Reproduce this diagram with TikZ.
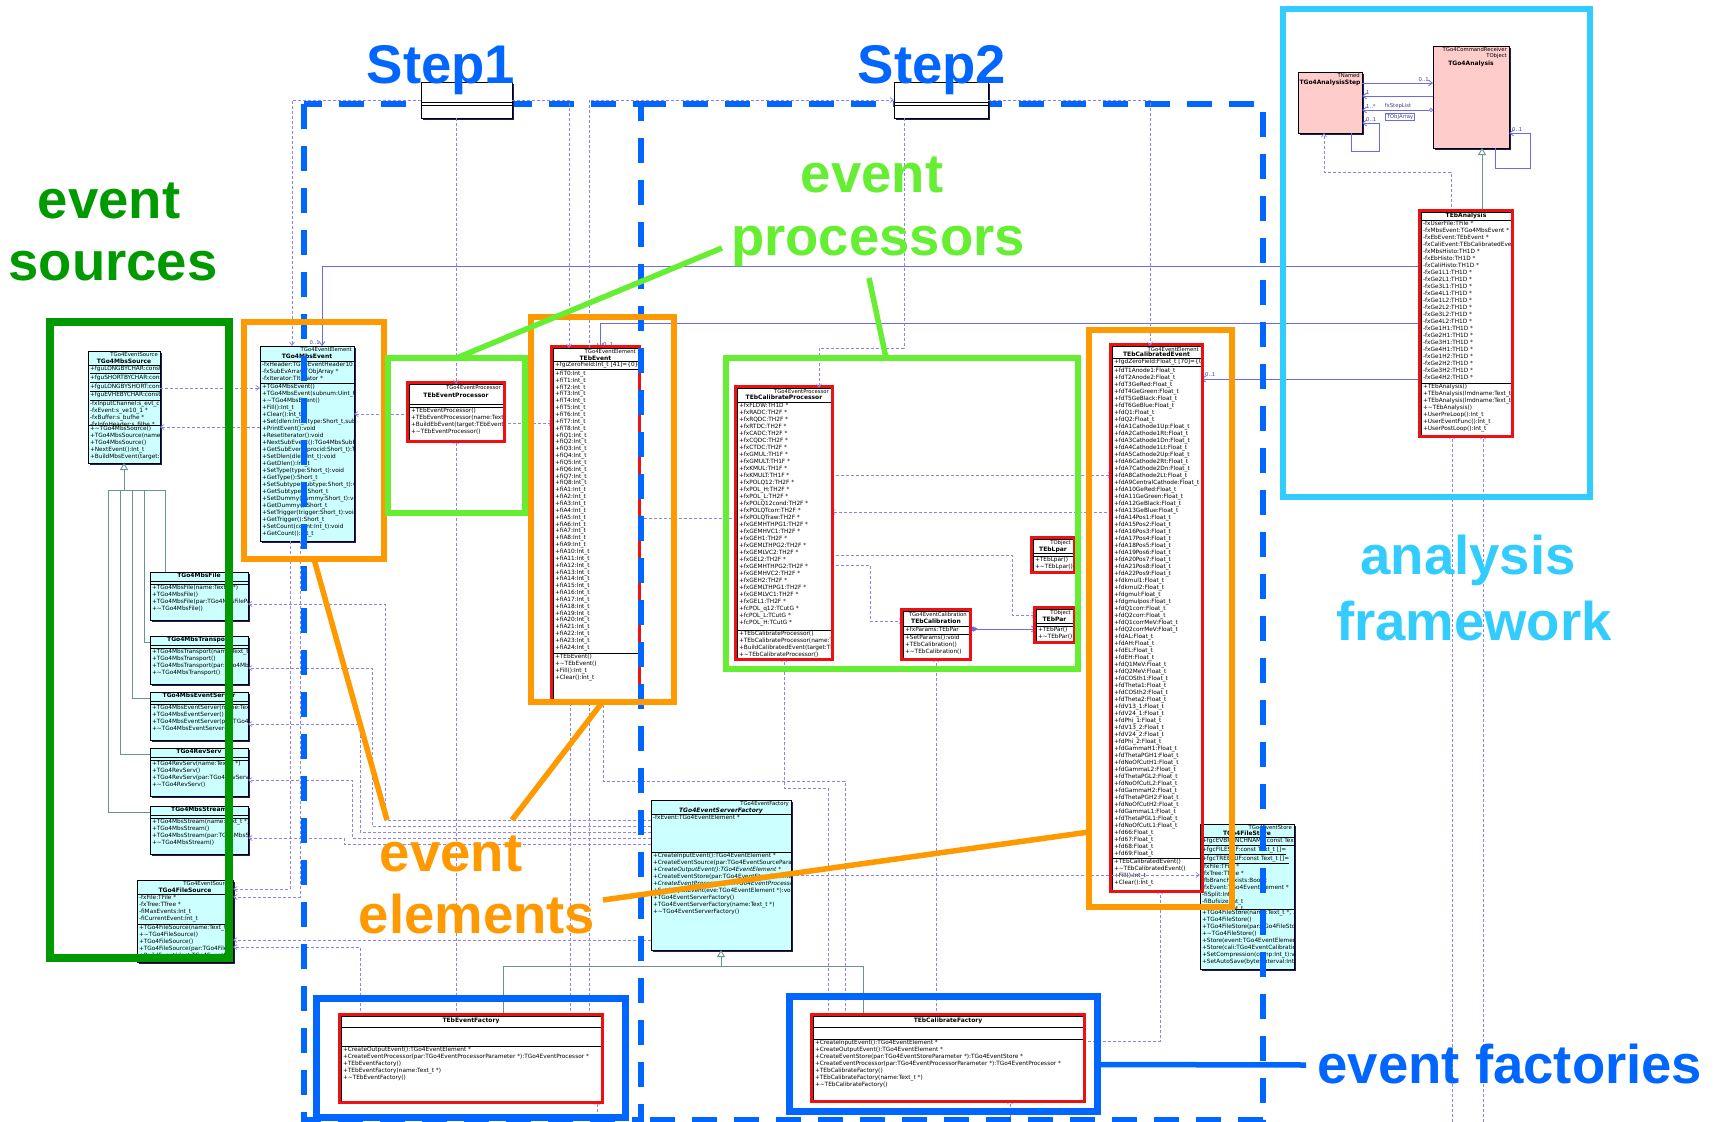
\documentclass[tikz,border=0pt]{standalone}
\usepackage{fontspec}
\setmainfont{DejaVu Sans}
\newfontfamily\labelfont{Liberation Sans}
\usetikzlibrary{arrows.meta,calc}
\definecolor{umlcyan}{HTML}{CCFFFF}
\definecolor{umlpink}{HTML}{FFCCCC}
\definecolor{umlshade}{HTML}{1C1C6E}
\definecolor{depc}{HTML}{8F82EA}
\definecolor{assocc}{HTML}{6A6AEE}
\definecolor{inhc}{HTML}{6C9292}
\definecolor{hlred}{HTML}{EE1111}
\definecolor{srcgreen}{HTML}{009A00}
\definecolor{procgreen}{HTML}{66EE33}
\definecolor{elorange}{HTML}{FF9900}
\definecolor{anacyan}{HTML}{33CCFF}
\definecolor{stepblue}{HTML}{0066FF}
\catcode`\_=12

\tikzset{
  umlnode/.style={rectangle, draw=black, line width=0.5pt, fill=white, inner sep=0pt, outer sep=0pt},
  umlsep/.style={draw=black, line width=0.5pt},
  umltxt/.style={inner sep=0pt, align=left, font=\fontsize{5.8}{7}\selectfont},
  umldense/.style={font=\fontsize{5.8}{6.85}\selectfont},
  umlpar/.style={inner sep=0pt, align=right, font=\fontsize{5.3}{6.3}\selectfont},
  umltitle/.style={inner sep=0pt, font=\bfseries\fontsize{6}{7}\selectfont},
  hlframe/.style={draw=hlred, line width=3.2pt},
  dep/.style={draw=depc, line width=0.7pt, dash pattern=on 3pt off 2pt, -{Straight Barb[length=3.5pt,width=5pt]}},
  assoc/.style={draw=assocc, line width=0.8pt, -{Straight Barb[length=4pt,width=6pt]}},
  assocplain/.style={draw=assocc, line width=0.8pt},
  inhline/.style={draw=inhc, line width=0.9pt},
  inh/.style={inhline, -{Triangle[open,length=7pt,width=8pt,fill=white]}},
  multlbl/.style={inner sep=0pt, font=\fontsize{5.3}{6}\selectfont, text=assocc!60!black},
  bigframe/.style={rectangle, draw=#1, fill=none, inner sep=0pt, outer sep=0pt},
  bigtxt/.style={inner sep=0pt, anchor=base, text=#1, font=\labelfont\bfseries\fontsize{54.5}{60}\selectfont},
  ptrline/.style={draw=#1, line width=5.5pt},
  stepdash/.style={draw=stepblue, line width=5.5pt, dash pattern=on 25pt off 17pt},
}

% class box: [options]{name}{x}{y}{width}{header h}{attribute h}{method h}
\newcommand\umlbox[8][]{%
  \pgfmathsetmacro\umlh{#6+#7+#8}%
  \fill[umlshade] (#3+2.2,#4+2.2) rectangle ++(#5,\umlh);
  \node[umlnode,#1,minimum width=#5,minimum height=\umlh,anchor=north west] (#2) at (#3,#4) {};
  \coordinate (#2-a) at (#3,#4+#6);
  \coordinate (#2-m) at (#3,#4+#6+#7);
  \draw[umlsep] (#2-a) -- ++(#5,0);
  \draw[umlsep] (#2-m) -- ++(#5,0);
}
% header: [title offset]{box}{parent}{title}
\newcommand\umlhead[4][7.4]{%
  \begin{scope}
    \clip (#2.south west) rectangle (#2.north east);
    \node[umlpar,anchor=north east] at ($(#2.north east)+(-2,1.3)$) {#3};
    \node[umltitle,anchor=north] at ($(#2.north)+(0,#1)$) {#4};
  \end{scope}}
% compartment text: [options]{box}{a|m}{lines}
\newcommand\umlsec[4][]{%
  \begin{scope}
    \clip (#2.south west) rectangle (#2.north east);
    \node[umltxt,anchor=north west,#1] at ($(#2-#3)+(1.8,1.0)$) {#4};
  \end{scope}}
\newcommand\hlbox[1]{\draw[hlframe] ($(#1.north west)+(-1.6,-1.6)$) rectangle ($(#1.south east)+(1.6,1.6)$);}
\newcommand\dt{\textasciitilde}

\begin{document}
\begin{tikzpicture}[x=1pt,y=-1pt]
\useasboundingbox (0,0) rectangle (1725,1122);
\fill[white] (0,0) rectangle (1725,1122);

% ---------- class boxes ----------
\umlbox[fill=umlcyan]{mbssrc}{88}{351}{72}{14}{60}{38}
\umlhead{mbssrc}{TGo4EventSource}{TGo4MbsSource}
\umlsec{mbssrc}{a}{\underline{+fguLONGBYCHAR:const Uint_t}\\\underline{+fguSHORTBYCHAR:const Uint_t}\\\underline{+fguLONGBYSHORT:const Uint_t}\\\underline{+fguEVHEBYCHAR:const Uint_t}\\-fxInputChannel:s_evt_channel *\\-fxEvent:s_ve10_1 *\\-fxBuffer:s_bufhe *\\-fxInfoHeader:s_filhe *}
\umlsec{mbssrc}{m}{+\dt TGo4MbsSource()\\+TGo4MbsSource(name:Text_t *)\\+TGo4MbsSource()\\+NextEvent():Int_t\\+BuildMbsEvent(target:TGo4MbsEvent *)}

\umlbox[fill=umlcyan]{mbsevt}{260}{346}{94}{15}{22}{158}
\umlhead{mbsevt}{TGo4EventElement}{TGo4MbsEvent}
\umlsec{mbsevt}{a}{-fxHeader:TGo4EventHeader10 *\\-fxSubEvArray:TObjArray *\\-fxIterator:TIterator *}
\umlsec{mbsevt}{m}{+TGo4MbsEvent()\\+TGo4MbsEvent(subnum:Uint_t, ...)\\+\dt TGo4MbsEvent()\\+Fill():Int_t\\+Clear():Int_t\\+Set(dlen:Int_t,type:Short_t,subtype:Short_t)\\+PrintEvent():void\\+ResetIterator():void\\+NextSubEvent():TGo4MbsSubEvent *\\+GetSubEvent(procid:Short_t):TGo4MbsSubEvent *\\+SetDlen(dlen:Int_t):void\\+GetDlen():Int_t\\+SetType(type:Short_t):void\\+GetType():Short_t\\+SetSubtype(subtype:Short_t):void\\+GetSubtype():Short_t\\+SetDummy(dummy:Short_t):void\\+GetDummy():Short_t\\+SetTrigger(trigger:Short_t):void\\+GetTrigger():Short_t\\+SetCount(count:Int_t):void\\+GetCount():Int_t}

\umlbox{evproc}{409}{384}{94}{20}{3}{33}
\umlhead[9]{evproc}{TGo4EventProcessor}{TEbEventProcessor}
\umlsec{evproc}{m}{+TEbEventProcessor()\\+TEbEventProcessor(name:Text_t *)\\+BuildEbEvent(target:TEbEvent *)\\+\dt TEbEventProcessor()}

\umlbox{ebevt}{553}{348}{85}{13}{292}{46}
\umlhead{ebevt}{TGo4EventElement}{TEbEvent}
\umlsec[umldense]{ebevt}{a}{\underline{+fgiZeroField:Int_t [41]=\{0\}}\\+fiT0:Int_t\\+fiT1:Int_t\\+fiT2:Int_t\\+fiT3:Int_t\\+fiT4:Int_t\\+fiT5:Int_t\\+fiT6:Int_t\\+fiT7:Int_t\\+fiT8:Int_t\\+fiQ1:Int_t\\+fiQ2:Int_t\\+fiQ3:Int_t\\+fiQ4:Int_t\\+fiQ5:Int_t\\+fiQ6:Int_t\\+fiQ7:Int_t\\+fiQ8:Int_t\\+fiA1:Int_t\\+fiA2:Int_t\\+fiA3:Int_t\\+fiA4:Int_t\\+fiA5:Int_t\\+fiA6:Int_t\\+fiA7:Int_t\\+fiA8:Int_t\\+fiA9:Int_t\\+fiA10:Int_t\\+fiA11:Int_t\\+fiA12:Int_t\\+fiA13:Int_t\\+fiA14:Int_t\\+fiA15:Int_t\\+fiA16:Int_t\\+fiA17:Int_t\\+fiA18:Int_t\\+fiA19:Int_t\\+fiA20:Int_t\\+fiA21:Int_t\\+fiA22:Int_t\\+fiA23:Int_t\\+fiA24:Int_t}
\umlsec{ebevt}{m}{+TEbEvent()\\+\dt TEbEvent()\\+Fill():Int_t\\+Clear():Int_t}

\umlbox{calproc}{737}{388}{94}{14}{228}{28}
\umlhead[7]{calproc}{TGo4EventProcessor}{TEbCalibrateProcessor}
\umlsec{calproc}{a}{+fxFLOW:TH1D *\\+fxRADC:TH2F *\\+fxRQDC:TH2F *\\+fxRTDC:TH2F *\\+fxCADC:TH2F *\\+fxCQDC:TH2F *\\+fxCTDC:TH2F *\\+fxGMUL:TH1F *\\+fxGMULT:TH1F *\\+fxKMUL:TH1F *\\+fxKMULT:TH1F *\\+fxPOLQ12:TH2F *\\+fxPOL_H:TH2F *\\+fxPOL_L:TH2F *\\+fxPOLQ12cond:TH2F *\\+fxPOLQTcorr:TH2F *\\+fxPOLQTraw:TH2F *\\+fxGEMHTHPG1:TH2F *\\+fxGEMHVC1:TH2F *\\+fxGEH1:TH2F *\\+fxGEMLTHPG2:TH2F *\\+fxGEMLVC2:TH2F *\\+fxGEL2:TH2F *\\+fxGEMHTHPG2:TH2F *\\+fxGEMHVC2:TH2F *\\+fxGEH2:TH2F *\\+fxGEMLTHPG1:TH2F *\\+fxGEMLVC1:TH2F *\\+fxGEL1:TH2F *\\+fcPOL_q12:TCutG *\\+fcPOL_L:TCutG *\\+fcPOL_H:TCutG *}
\umlsec{calproc}{m}{+TEbCalibrateProcessor()\\+TEbCalibrateProcessor(name:Text_t *)\\+BuildCalibratedEvent(target:TEbCalibratedEvent *)\\+\dt TEbCalibrateProcessor()}

\umlbox{calib}{903}{611}{66}{15}{8}{24}
\umlhead{calib}{TGo4EventCalibration}{TEbCalibration}
\umlsec{calib}{a}{+fxParams:TEbPar}
\umlsec{calib}{m}{+SetParams():void\\+TEbCalibration()\\+\dt TEbCalibration()}

\umlbox{lpar}{1033}{539}{40}{14}{3}{15}
\umlhead{lpar}{TObject}{TEbLpar}
\umlsec{lpar}{m}{+TEbLpar()\\+\dt TEbLpar()}

\umlbox{par}{1036}{609}{37}{14}{3}{15}
\umlhead{par}{TObject}{TEbPar}
\umlsec{par}{m}{+TEbPar()\\+\dt TEbPar()}

\umlbox{calevt}{1112}{346}{89}{12}{500}{32}
\umlhead[5.5]{calevt}{TGo4EventElement}{TEbCalibratedEvent}
\umlsec{calevt}{a}{\underline{+fgdZeroField:Float_t [70]=\{0\}}\\+fdT1Anode1:Float_t\\+fdT2Anode2:Float_t\\+fdT3GeRed:Float_t\\+fdT4GeGreen:Float_t\\+fdT5GeBlack:Float_t\\+fdT6GeBlue:Float_t\\+fdQ1:Float_t\\+fdQ2:Float_t\\+fdA1Cathode1Up:Float_t\\+fdA2Cathode1Rt:Float_t\\+fdA3Cathode1Dn:Float_t\\+fdA4Cathode1Lt:Float_t\\+fdA5Cathode2Up:Float_t\\+fdA6Cathode2Rt:Float_t\\+fdA7Cathode2Dn:Float_t\\+fdA8Cathode2Lt:Float_t\\+fdA9CentralCathode:Float_t\\+fdA10GeRed:Float_t\\+fdA11GeGreen:Float_t\\+fdA12GeBlack:Float_t\\+fdA13GeBlue:Float_t\\+fdA14Pos1:Float_t\\+fdA15Pos2:Float_t\\+fdA16Pos3:Float_t\\+fdA17Pos4:Float_t\\+fdA18Pos5:Float_t\\+fdA19Pos6:Float_t\\+fdA20Pos7:Float_t\\+fdA21Pos8:Float_t\\+fdA22Pos9:Float_t\\+fdkmul1:Float_t\\+fdkmul2:Float_t\\+fdgmul:Float_t\\+fdgmulpos:Float_t\\+fdQ1corr:Float_t\\+fdQ2corr:Float_t\\+fdQ1corrMeV:Float_t\\+fdQ2corrMeV:Float_t\\+fdAL:Float_t\\+fdAH:Float_t\\+fdEL:Float_t\\+fdEH:Float_t\\+fdQ1MeV:Float_t\\+fdQ2MeV:Float_t\\+fdCOSth1:Float_t\\+fdTheta1:Float_t\\+fdCOSth2:Float_t\\+fdTheta2:Float_t\\+fdV13_1:Float_t\\+fdV24_1:Float_t\\+fdPhi_1:Float_t\\+fdV13_2:Float_t\\+fdV24_2:Float_t\\+fdPhi_2:Float_t\\+fdGammaH1:Float_t\\+fdThetaPGH1:Float_t\\+fdNoOfCutH1:Float_t\\+fdGammaL2:Float_t\\+fdThetaPGL2:Float_t\\+fdNoOfCutL2:Float_t\\+fdGammaH2:Float_t\\+fdThetaPGH2:Float_t\\+fdNoOfCutH2:Float_t\\+fdGammaL1:Float_t\\+fdThetaPGL1:Float_t\\+fdNoOfCutL1:Float_t\\+fd66:Float_t\\+fd67:Float_t\\+fd68:Float_t\\+fd69:Float_t}
\umlsec{calevt}{m}{+TEbCalibratedEvent()\\+\dt TEbCalibratedEvent()\\+Fill():Int_t\\+Clear():Int_t}

\umlbox{ana}{1421}{212}{90}{8}{163}{52}
\umlhead[1.2]{ana}{}{TEbAnalysis}
\umlsec{ana}{a}{-fxUserFile:TFile *\\-fxMbsEvent:TGo4MbsEvent *\\-fxEbEvent:TEbEvent *\\-fxCaliEvent:TEbCalibratedEvent *\\-fxMbsHisto:TH1D *\\-fxEbHisto:TH1D *\\-fxCaliHisto:TH1D *\\-fxGe1L1:TH1D *\\-fxGe2L1:TH1D *\\-fxGe3L1:TH1D *\\-fxGe4L1:TH1D *\\-fxGe1L2:TH1D *\\-fxGe2L2:TH1D *\\-fxGe3L2:TH1D *\\-fxGe4L2:TH1D *\\-fxGe1H1:TH1D *\\-fxGe2H1:TH1D *\\-fxGe3H1:TH1D *\\-fxGe4H1:TH1D *\\-fxGe1H2:TH1D *\\-fxGe2H2:TH1D *\\-fxGe3H2:TH1D *\\-fxGe4H2:TH1D *}
\umlsec{ana}{m}{+TEbAnalysis()\\+TEbAnalysis(lmdname:Text_t *)\\+TEbAnalysis(lmdname:Text_t *, outname:Text_t *)\\+\dt TEbAnalysis()\\+UserPreLoop():Int_t\\+UserEventFunc():Int_t\\+UserPostLoop():Int_t}

\umlbox[fill=umlpink]{astep}{1298}{72}{64}{61}{0}{0}
\umlhead[7.6]{astep}{TNamed}{TGo4AnalysisStep}
\umlbox[fill=umlpink]{go4ana}{1433}{46}{76}{102}{0}{0}
\umlhead[14.6]{go4ana}{TGo4CommandReceiver\\TObject}{TGo4Analysis}

\umlbox[fill=umlcyan]{mbsfile}{150}{572}{98}{9}{3}{36}
\umlhead[1.2]{mbsfile}{}{TGo4MbsFile}
\umlsec{mbsfile}{m}{+TGo4MbsFile(name:Text_t *)\\+TGo4MbsFile()\\+TGo4MbsFile(par:TGo4MbsFileParameter *)\\+\dt TGo4MbsFile()}
\umlbox[fill=umlcyan]{mbstrans}{150}{636}{98}{9}{3}{36}
\umlhead[1.2]{mbstrans}{}{TGo4MbsTransport}
\umlsec{mbstrans}{m}{+TGo4MbsTransport(name:Text_t *)\\+TGo4MbsTransport()\\+TGo4MbsTransport(par:TGo4MbsTransportParameter *)\\+\dt TGo4MbsTransport()}
\umlbox[fill=umlcyan]{mbsevsrv}{150}{692}{98}{9}{3}{36}
\umlhead[1.2]{mbsevsrv}{}{TGo4MbsEventServer}
\umlsec{mbsevsrv}{m}{+TGo4MbsEventServer(name:Text_t *)\\+TGo4MbsEventServer()\\+TGo4MbsEventServer(par:TGo4MbsEventServerParameter *)\\+\dt TGo4MbsEventServer()}
\umlbox[fill=umlcyan]{revserv}{150}{748}{98}{9}{3}{36}
\umlhead[1.2]{revserv}{}{TGo4RevServ}
\umlsec{revserv}{m}{+TGo4RevServ(name:Text_t *)\\+TGo4RevServ()\\+TGo4RevServ(par:TGo4RevServParameter *)\\+\dt TGo4RevServ()}
\umlbox[fill=umlcyan]{mbsstream}{150}{806}{98}{9}{3}{36}
\umlhead[1.2]{mbsstream}{}{TGo4MbsStream}
\umlsec{mbsstream}{m}{+TGo4MbsStream(name:Text_t *)\\+TGo4MbsStream()\\+TGo4MbsStream(par:TGo4MbsStreamParameter *)\\+\dt TGo4MbsStream()}

\umlbox[fill=umlcyan]{filesrc}{137}{880}{96}{14}{30}{38}
\umlhead{filesrc}{TGo4EventSource}{TGo4FileSource}
\umlsec{filesrc}{a}{-fxFile:TFile *\\-fxTree:TTree *\\-fiMaxEvents:Int_t\\-fiCurrentEvent:Int_t}
\umlsec{filesrc}{m}{+TGo4FileSource(name:Text_t *)\\+\dt TGo4FileSource()\\+TGo4FileSource()\\+TGo4FileSource(par:TGo4FileSourceParameter *)\\+BuildEvent(dest:TGo4EventElement *)}

\umlbox[fill=umlcyan]{srvfac}{651}{800}{140}{14}{38}{98}
\umlhead{srvfac}{TGo4EventFactory}{\itshape TGo4EventServerFactory}
\umlsec{srvfac}{a}{-fxEvent:TGo4EventElement *}
\umlsec{srvfac}{m}{+CreateInputEvent():TGo4EventElement *\\+CreateEventSource(par:TGo4EventSourceParameter *):TGo4EventSource *\\\textit{+CreateOutputEvent():TGo4EventElement *}\\+CreateEventStore(par:TGo4EventStoreParameter *):TGo4EventStore *\\\textit{+CreateEventProcessor(par:TGo4EventProcessorParameter *):TGo4EventProcessor *}\\+SetOutputEvent(eve:TGo4EventElement *):void\\+TGo4EventServerFactory()\\+TGo4EventServerFactory(name:Text_t *)\\+\dt TGo4EventServerFactory()}

\umlbox[fill=umlcyan]{filestore}{1200}{824}{94}{13}{72}{60}
\umlhead[6.6]{filestore}{TGo4EventStore}{TGo4FileStore}
\umlsec{filestore}{a}{\underline{+fgcEVBRANCHNAME:const Text_t []=}\\\underline{+fgcFILESUF:const Text_t []=}\\\underline{+fgcTREESUF:const Text_t []=}\\-fxFile:TFile *\\-fxTree:TTree *\\-fbBranchExists:Bool_t\\-fxEvent:TGo4EventElement *\\-fiSplit:Int_t\\-fiBufsize:Int_t\\-fiFilesize:Int_t}
\umlsec{filestore}{m}{+TGo4FileStore(name:Text_t *, ...)\\+TGo4FileStore()\\+TGo4FileStore(par:TGo4FileStoreParameter *)\\+\dt TGo4FileStore()\\+Store(event:TGo4EventElement *)\\+Store(cali:TGo4EventCalibration *)\\+SetCompression(comp:Int_t):void\\+SetAutoSave(bytesinterval:Int_t)}

\umlbox{lfac}{341}{1016}{260}{11}{19}{55}
\umlhead[2]{lfac}{}{TEbEventFactory}
\umlsec{lfac}{m}{+CreateOutputEvent():TGo4EventElement *\\+CreateEventProcessor(par:TGo4EventProcessorParameter *):TGo4EventProcessor *\\+TEbEventFactory()\\+TEbEventFactory(name:Text_t *)\\+\dt TEbEventFactory()}

\umlbox{rfac}{813}{1016}{270}{11}{12}{61}
\umlhead[2]{rfac}{}{TEbCalibrateFactory}
\umlsec{rfac}{m}{+CreateInputEvent():TGo4EventElement *\\+CreateOutputEvent():TGo4EventElement *\\+CreateEventStore(par:TGo4EventStoreParameter *):TGo4EventStore *\\+CreateEventProcessor(par:TGo4EventProcessorParameter *):TGo4EventProcessor *\\+TEbCalibrateFactory()\\+TEbCalibrateFactory(name:Text_t *)\\+\dt TEbCalibrateFactory()}

% ---------- associations of the analysis ----------
\draw[assoc] ($(ana.north west)+(0,54)$) -| ($(mbsevt.north west)+(62,0)$);
\node[multlbl,anchor=south east] at ($(mbsevt.north west)+(60,-1)$) {0..1};
\draw[assoc] ($(ana.north west)+(0,111)$) -| ($(ebevt.north west)+(47,0)$);
\node[multlbl,anchor=south west] at ($(ebevt.north west)+(50,-1)$) {0..1};
\draw[assoc] ($(ana.north west)+(0,167)$) -- ($(calevt.north east)+(0,33)$);
\node[multlbl,anchor=south west] at ($(calevt.north east)+(4,31)$) {0..1};

\draw[assoc] ($(astep.north east)+(0,11)$) -- ($(go4ana.north west)+(0,37)$);
\node[multlbl,anchor=south east] at ($(go4ana.north west)+(-4,36)$) {0..1};
\draw[assoc] ($(go4ana.north west)+(0,50)$) -- ($(astep.north east)+(0,24)$);
\node[multlbl,anchor=south west] at ($(astep.north east)+(4,23)$) {1};
\draw[assocplain,{Circle[open,length=4pt,width=4pt,fill=white]}-{Straight Barb[length=4pt,width=6pt]}] ($(go4ana.north west)+(0,64)$) -- ($(astep.north east)+(0,38)$);
\node[multlbl,anchor=south west] at ($(astep.north east)+(4,37)$) {1..*};
\node[multlbl,anchor=south] (steplist) at (1398,109) {fxStepList};
\node[multlbl,draw=assocc,line width=0.6pt,inner sep=1pt,anchor=north] (objarr) at (1400,113) {TObjArray};
\draw[assoc] ($(astep.south west)+(53,0)$) -- ++(0,18) -- (1379,151) -- (1379,123) -- ($(astep.north east)+(0,51)$);
\node[multlbl,anchor=south west] at ($(astep.north east)+(4,50)$) {0..1};
\draw[assoc] ($(go4ana.south west)+(62,0)$) -- ++(0,20) -- (1530,168) -- (1530,133) -- ($(go4ana.north east)+(0,87)$);
\node[multlbl,anchor=south west] at ($(go4ana.north east)+(3,86)$) {0..1};
\draw[dep] ($(ana.north west)+(30,0)$) -- ++(0,-40) -- (1324,172) -- ($(astep.south west)+(26,0)$);
\draw[inh] ($(ana.north west)+(61,0)$) -- ($(go4ana.south west)+(49,0)$);
\coordinate (offa) at (1452,1122);
\coordinate (offb) at (1483,1122);
\draw[dep] (offa) -- ($(ana.south west)+(31,0)$);
\draw[dep] (offb) -- ($(ana.south west)+(62,0)$);

% ---------- dependencies ----------
\draw[dep] ($(mbssrc.north east)+(0,37)$) -- ($(mbsevt.north west)+(0,42)$);
\draw[dep] ($(mbsevt.north west)+(0,81)$) -- ($(mbssrc.north east)+(0,76)$);
\draw[dep] ($(evproc.north west)+(0,30)$) -- ($(mbsevt.north east)+(0,68)$);
\draw[dep] ($(evproc.north east)+(0,39)$) -- ($(ebevt.north west)+(0,75)$);
\draw[dep] ($(calproc.north west)+(0,130)$) -- ($(ebevt.north east)+(0,170)$);
\draw[dep] ($(calproc.north east)+(0,87)$) -- ($(calevt.north west)+(0,129)$);
\draw[dep] ($(calevt.north west)+(0,166)$) -- ($(calproc.north east)+(0,124)$);
\draw[dep] ($(calproc.north east)+(0,177)$) -- (870,565) |- ($(calib.north west)+(0,10)$);
\draw[dep] ($(calproc.north east)+(0,167)$) -- (1012,555) |- ($(par.north west)+(0,6)$);
\draw[assocplain,{Diamond[length=9pt,width=5pt]}-{Straight Barb[length=4pt,width=6pt]}] ($(calib.north east)+(0,18)$) -- ($(par.north west)+(0,20)$);

\draw[dep] ($(srvfac.north west)+(0,20)$) -| (385,604) -- ($(mbsfile.north east)+(0,32)$);
\draw[dep] ($(srvfac.north west)+(0,26)$) -| (372,668) -- ($(mbstrans.north east)+(0,32)$);
\draw[dep] ($(srvfac.north west)+(0,32)$) -| (360,724) -- ($(mbsevsrv.north east)+(0,32)$);
\draw[dep] ($(srvfac.north west)+(0,38)$) -| (352,780) -- ($(revserv.north east)+(0,32)$);
\draw[dep] ($(srvfac.north west)+(0,44)$) -| (344,838) -- ($(mbsstream.north east)+(0,32)$);
\draw[dep] ($(mbsevt.south west)+(30,0)$) |- ($(filesrc.north east)+(0,9)$);
\draw[dep] ($(mbsevt.south west)+(40,0)$) |- ($(filesrc.north east)+(0,17)$);
\draw[dep] ($(srvfac.north west)+(0,140)$) -- ($(filesrc.north east)+(0,60)$);
\draw[dep] ($(lfac.north west)+(19,0)$) |- ($(filesrc.north east)+(0,67)$);
\draw[dep] ($(srvfac.north east)+(0,75)$) -- ($(filestore.north west)+(0,51)$);

\draw[dep] (lfac.north -| evproc.south) -- (evproc.south);
\draw[dep] ($(lfac.north west)+(229,0)$) -- ($(ebevt.south west)+(17,0)$);
\draw[dep] ($(lfac.north west)+(248,0)$) -- ($(ebevt.south west)+(36,0)$);
\draw[dep] ($(rfac.north west)+(15,0)$) |- ($(calproc.south)+(0,130)$) -- (calproc.south);
\draw[dep] ($(rfac.north west)+(32,0)$) |- ($(ebevt.south west)+(50,82)$) -- ($(ebevt.south west)+(50,0)$);
\draw[dep] (rfac.north -| calib.south) -- (calib.south);
\draw[dep] ($(rfac.north east)+(0,25)$) -| ($(calevt.south west)+(48,0)$);
\coordinate (offc) at (597,1122);
\coordinate (offd) at (1010,1122);
\draw[dep] (offc) -- (lfac.south -| offc);
\draw[dep] (offd) -- (rfac.south -| offd);

% ---------- inheritance ----------
\draw[inhline] ($(lfac.north west)+(162,0)$) |- ($(srvfac.south)+(0,16)$);
\draw[inhline] ($(rfac.north west)+(50,0)$) |- ($(srvfac.south)+(0,16)$);
\draw[inh] ($(srvfac.south)+(0,16)$) -- (srvfac.south);
\draw[inhline] (108,490) -- (165,490);
\draw[inh] ($(mbssrc.south)+(0,27)$) -- (mbssrc.south);
\draw[inhline] (165,490) -- ($(mbsfile.north west)+(15,0)$);
\draw[inhline] (144,490) |- ($(mbstrans.north west)+(0,6)$);
\draw[inhline] (132,490) |- ($(mbsevsrv.north west)+(0,6)$);
\draw[inhline] (120,490) |- ($(revserv.north west)+(0,6)$);
\draw[inhline] (108,490) |- ($(mbsstream.north west)+(0,6)$);

% ---------- red highlights of the user classes ----------
\hlbox{evproc}\hlbox{ebevt}\hlbox{calproc}\hlbox{calib}\hlbox{lpar}\hlbox{par}
\hlbox{calevt}\hlbox{ana}\hlbox{lfac}\hlbox{rfac}

% ---------- step frames ----------
\draw[stepdash] (304,104) rectangle (641,1120);
\draw[stepdash] (641,104) -- (1263,104) -- (1263,1120) -- (641,1120);
\umlbox{st1}{421}{82}{91}{20}{3}{13}
\umlbox{st2}{894}{82}{94}{20}{3}{13}
\draw[dep] (st1.west) -| ($(mbsevt.north west)+(32,0)$);
\draw[dep] (st1.east) -| ($(ebevt.north west)+(16,0)$);
\draw[dep] (st1.south -| evproc.north) -- (evproc.north);
\draw[dep] ($(ebevt.north west)+(36,0)$) |- (st2.west);
\draw[dep] ($(st2.south west)+(10,0)$) |- ($(calproc.north west)+(82,-40)$) -- ($(calproc.north west)+(82,0)$);
\draw[dep] (st2.east) -| ($(calevt.north west)+(38,0)$);

% ---------- group frames ----------
\node[bigframe=srcgreen, line width=8pt, minimum width=179, minimum height=636] (fr-src) at (139.5,640) {};
\node[bigframe=elorange, line width=6.5pt, minimum width=140, minimum height=237] (fr-mbsevt) at (314,440.5) {};
\node[bigframe=elorange, line width=6.5pt, minimum width=143, minimum height=385] (fr-ebevt) at (602.5,509.5) {};
\node[bigframe=elorange, line width=6.5pt, minimum width=143, minimum height=577] (fr-calevt) at (1160.5,618.5) {};
\node[bigframe=procgreen, line width=5.5pt, minimum width=137, minimum height=155] (fr-proc1) at (456.5,435.5) {};
\node[bigframe=procgreen, line width=5.5pt, minimum width=352, minimum height=311] (fr-proc2) at (902,513.5) {};
\node[bigframe=anacyan, line width=6pt, minimum width=307, minimum height=488] (fr-ana) at (1436.5,253) {};
\node[bigframe=stepblue, line width=7pt, minimum width=309, minimum height=119] (fr-lfac) at (470.5,1057.5) {};
\node[bigframe=stepblue, line width=7pt, minimum width=308, minimum height=115] (fr-rfac) at (943,1053.5) {};

% ---------- labels ----------
\node[bigtxt=srcgreen] (lb-src1) at (109,218) {event};
\node[bigtxt=srcgreen] (lb-src2) at (113,280) {sources};
\node[bigtxt=stepblue] (lb-step1) at (441,83) {Step1};
\node[bigtxt=stepblue] (lb-step2) at (932,83) {Step2};
\node[bigtxt=procgreen] (lb-proc1) at (872,192) {event};
\node[bigtxt=procgreen] (lb-proc2) at (878,255) {processors};
\node[bigtxt=anacyan] (lb-ana1) at (1468,574) {analysis};
\node[bigtxt=anacyan] (lb-ana2) at (1474,640) {framework};
\node[bigtxt=elorange] (lb-el1) at (451,871) {event};
\node[bigtxt=elorange] (lb-el2) at (477,933) {elements};
\node[bigtxt=stepblue] (lb-fac) at (1510,1083) {event factories};

% ---------- pointers from labels to groups ----------
\coordinate (pe1) at (387,820);
\coordinate (pe2) at (512,820);
\coordinate (pe3) at (603,900);
\coordinate (pp1) at (722,248);
\coordinate (pp2) at (869,278);
\coordinate (pf1) at (1306,1065);
\draw[ptrline=elorange] (pe1) -- (fr-mbsevt.south);
\draw[ptrline=elorange] (pe2) -- (fr-ebevt.south);
\draw[ptrline=elorange] (pe3) -- ($(fr-calevt.south west)+(0,-75)$);
\draw[ptrline=procgreen] (pp1) -- (fr-proc1.north);
\draw[ptrline=procgreen] (pp2) -- ($(fr-proc2.north west)+(160,0)$);
\draw[ptrline=stepblue] ($(fr-rfac.east)+(0,11)$) -- (pf1);
\end{tikzpicture}
\end{document}
